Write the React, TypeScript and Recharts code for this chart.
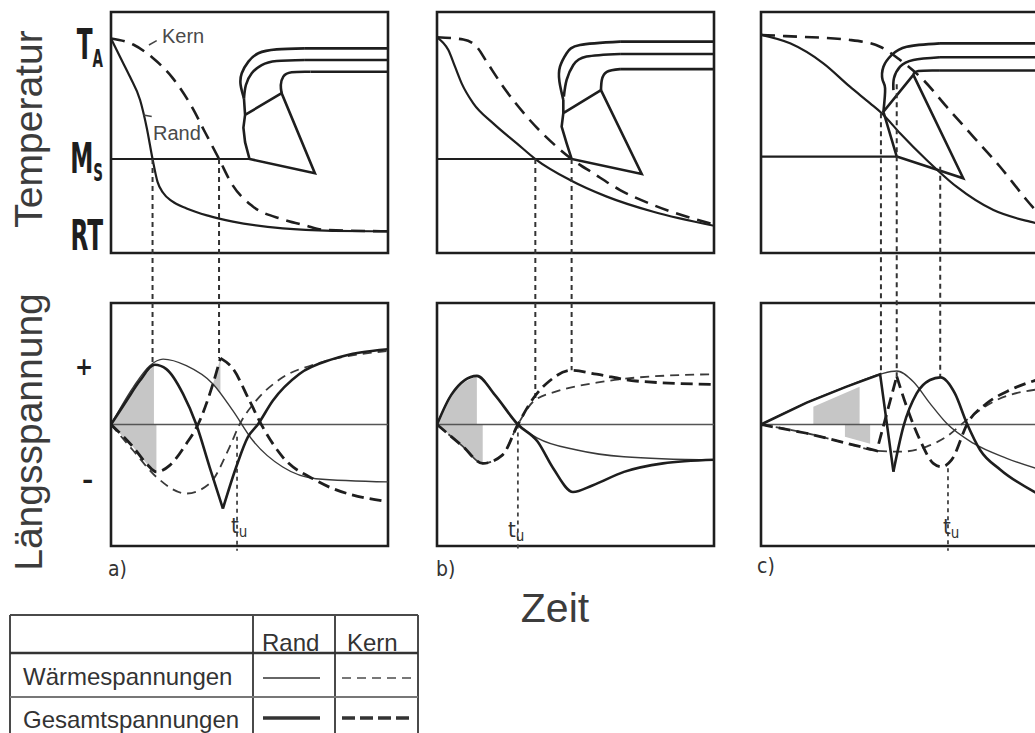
import React from "react";
import { ComposedChart, Line, Area, XAxis, YAxis, ReferenceArea, ReferenceLine } from "recharts";

// --- axis ticks -------------------------------------------------------------
// temperature: 0 = bottom of upper box, 100 = top of upper box
const tempTicks = [9, 39, 89];
const tempTickMain = ["RT", "M", "T"];
const tempTickSub = ["", "S", "A"];
// stress: 0 = zero line, +-50 = edges of lower box
const stressTicks = [23.5, -23];
const stressTickLabels = ["+", "\u2013"];

const panelLabels = ["a)", "b)", "c)"];
const legendCols = ["Rand", "Kern"];
const legendRows = ["Wärmespannungen", "Gesamtspannungen"];

// --- panel a: temperature ---------------------------------------------------
const aRandT = [[0, 89], [3.2, 81.5], [6.9, 73], [10.5, 63.5], [12.9, 52], [15, 39], [16.8, 29.5], [18.8, 25], [22, 21.5], [27.3, 18.5], [35, 15.5], [44, 13], [62, 10.2], [80, 9.2], [100, 9]];
const aKernT = [[0, 89], [8, 86.5], [15, 81], [22, 73], [29, 61], [34, 50], [39, 39], [43.7, 28.5], [51, 19.5], [62, 14], [70, 11.5], [77, 9.6], [100, 9]];
const aMs = [[0, 39], [50, 39]];
const aCct1 = [[48, 64.2], [46.8, 69.7], [47.2, 74.6], [49.6, 79.4], [53.2, 82.9], [59.8, 84.5], [70, 84.9]];
const aCct2 = [[48, 64.2], [48.7, 69.7], [50.8, 74.6], [54.4, 78], [59.8, 79.7], [70, 80.1]];
const aCct3 = [[61.6, 66.3], [61.3, 69.7], [62.2, 73.2], [65.2, 75], [72, 75.2]];
const aCctBox = [[48, 64.2], [48.4, 57.3], [47.8, 52], [48.4, 46], [50, 39], [73.6, 33.1], [61.6, 66.3], [48.4, 57.3]];
// --- panel a: stress --------------------------------------------------------
const aRandTot1 = [[0, 0], [5.6, 9.8], [10.4, 18], [15.8, 24.6], [20, 22.8], [26, 12.6], [30.8, 0], [35.6, -17.5], [40.4, -34.6]];
const aRandTot2 = [[40.4, -34.6], [45.2, -17.5], [49.4, -5.2], [53, 0], [58.4, 9.8], [68, 20.8], [80, 26.9], [100, 31]];
const aRandTherm = [[0, 0], [8, 15.3], [14, 24.2], [18.8, 26.9], [27.2, 24.2], [36.8, 16.7], [44, 5.7], [51.2, -6.6], [62, -17.5], [74, -22.3], [100, -23.6]];
const aKernTot1 = [[0, 0], [8, -9.3], [12.8, -16.1], [16.4, -19.5], [21.2, -16.8], [27.2, -7.9], [31.4, 0], [36.8, 16.7], [39.5, 27.3]];
const aKernTot2 = [[39.5, 27.3], [44, 23], [50, 9.8], [54.8, -1.1], [62, -13.4], [74, -23], [100, -31.8]];
const aKernTherm = [[0, 0], [8, -10.7], [16.4, -21.6], [27.2, -28.4], [35.6, -24.3], [42.8, -9.3], [46.4, 0], [52.4, 9.8], [62, 19.4], [74, 24.9], [100, 30.3]];
const aFillPos = [[0, 0], [5.6, 9.8], [10.4, 18], [15.5, 24.3]];
const aFillNeg = [[0, 0], [8, -9.3], [12.8, -16.1], [16.4, -19.5]];
const aFillPeak = [[36.8, 16.7, 16.7], [38.2, 14.6, 22], [39.5, 12.6, 27.3]];
const aDrops = [[15, 39, 25.2], [39, 39, 27.3]]; // x, start (temperature), end (stress)
const aTu = [45.5, -5, -52];

// --- panel b: temperature ---------------------------------------------------
const bRandT = [[0, 89.5], [4.1, 84.2], [6.5, 77.3], [8.9, 70.4], [13.1, 62.1], [20.3, 53.8], [28.8, 45.5], [35.5, 39], [48, 30.3], [61.3, 23.4], [78.1, 17.1], [100, 11.3]];
const bKernT = [[0, 89.5], [9.5, 88.6], [14.3, 85.6], [17.9, 79.4], [23.9, 69], [32.4, 56.6], [43.2, 44.1], [48.6, 39], [56.4, 33.1], [66.1, 26.1], [78.1, 19.9], [100, 11.8]];
const bMs = [[0, 39], [48.6, 39]];
const bCct1 = [[45.6, 63.5], [44.2, 71.1], [44.4, 77.3], [46.8, 82.9], [51.6, 86.3], [66.1, 87.7]];
const bCct2 = [[45.8, 64.9], [46.8, 71.8], [49.2, 78], [54, 81.5], [66.1, 82.6]];
const bCct3 = [[59.2, 67.6], [59.5, 71.8], [61.3, 75.2], [66.1, 76.3]];
const bCctBox = [[45.6, 63.5], [45.6, 58], [45, 52.4], [46.8, 45.5], [48.6, 39], [73.9, 32.8], [59.2, 67.6], [45.6, 58]];
// --- panel b: stress --------------------------------------------------------
const bRandTot = [[0, 0], [5.2, 12.3], [14.4, 20], [20.8, 12.3], [29.2, 0], [36.3, -7], [42, -18.1], [49.1, -27.8], [56.1, -25.1], [67.5, -19.5], [81.6, -16], [100, -14.5]];
const bRandTherm = [[0, 0], [5.2, 12.3], [14.4, 20], [20.8, 12.3], [29.2, 0], [36.3, -5.6], [50.5, -10.5], [67.5, -13.3], [100, -14.7]];
const bKernTot = [[0, 0], [9.4, -9.1], [16.5, -16], [23.6, -12.6], [29.2, 0], [34.9, 11], [40.6, 17.9], [48.4, 22.3], [57.6, 20.7], [71.8, 17.9], [100, 16.5]];
const bKernTherm = [[0, 0], [9.4, -9.1], [16.5, -16], [23.6, -12.6], [29.2, 0], [34.9, 9.6], [43.4, 13.7], [57.6, 17.2], [71.8, 19.3], [100, 20.7]];
const bFillPos = [[0, 0], [5.2, 12.3], [10, 17.5], [14.4, 20]];
const bFillNeg = [[0, 0], [9.4, -9.1], [14, -14.5], [16.5, -16]];
const bDrops = [[35.5, 39, 10.3], [48.6, 39, 22.3]];
const bTu = [29.2, 0, -52];

// --- panel c: temperature ---------------------------------------------------
const cRandT = [[0, 90.5], [10.5, 87], [22.5, 78.7], [32.1, 69], [39.4, 62.1], [43.6, 58], [50.2, 49.7], [59.8, 38.6], [70.6, 27.5], [83.9, 17.8], [97.1, 13], [100, 12.2]];
const cKernT = [[0, 90.5], [8.9, 90], [32.1, 88.4], [43, 85.6], [50.2, 80.1], [58.6, 71.8], [67, 60.7], [76.6, 48.3], [86.3, 35.8], [95.9, 22], [100, 16.5]];
const cMs = [[0, 40], [49, 40]];
const cCct1 = [[44.2, 58.6], [44.8, 68.3], [43.9, 71.8], [44.2, 77.3], [47.2, 82.2], [52.6, 85.6], [64.6, 87]];
const cCct2 = [[47.8, 67.6], [48, 72.5], [50.2, 77.3], [55, 80.1], [64.6, 81.2]];
const cCct3 = [[55, 73.9], [56.8, 75.5], [64.6, 75.7]];
const cCctBox = [[55, 73.9], [44.2, 58.6], [49, 40], [73, 31], [55, 73.9]];
// --- panel c: stress --------------------------------------------------------
const cRandTot1 = [[0, 0], [16.5, 9], [30.9, 15.6], [43, 20.7], [47.8, -19.4]];
const cRandTot2 = [[47.8, -19.4], [51.4, -0.9], [56.2, 12.8], [61, 18.3], [64.8, 19.4], [70, 12.8], [74.3, 0.5], [79.1, -10.5], [86.3, -18.5], [100, -28.5]];
const cRandTherm = [[0, 0], [16.5, 9], [30.9, 15.6], [43, 20.7], [49, 22], [55, 17.6], [61, 8.7], [67, 0.5], [76.6, -7.7], [88.7, -13.9], [100, -18.3]];
const cKernTot1 = [[0, 0], [16.5, -3.6], [30.9, -7.7], [41.8, -10.8], [49, 19.8]];
const cKernTot2 = [[49, 19.8], [52.6, 7.3], [57.4, -6.4], [62.2, -16], [65.2, -17.4], [68.8, -14.6], [74.8, 1], [81.5, 8.7], [89.9, 14.2], [100, 18.5]];
const cKernTherm = [[0, 0], [16.5, -3.6], [30.9, -7.7], [41.8, -10.8], [50.2, -11.2], [59.8, -9.1], [67, -5], [74.3, 1.9], [83.9, 9.4], [100, 14.5]];
const cFillPos = [[18.9, 7.3], [35.6, 15.5]];
const cFillNeg = [[30.3, -5], [39.4, -7.9]];
const cDrops = [[43.3, 58, 20.7], [49, 70, 19.8], [64.7, 35.8, 19.4]];
const cTu = [67.5, -18, -52];

// annotation leaders in panel a (temperature units)
const kernLeader = [[13.7, 86.3], [16.5, 88.1]];
const randLeader = [[11.7, 57.3], [14.7, 56.6]];

// --- layout -----------------------------------------------------------------
const TOP_Y0 = 12, TOP_Y1 = 253, BOT_Y0 = 303, BOT_Y1 = 546, PLOT_Y0 = 12, PLOT_Y1 = 560;
const BOX_W = 277;
const CHART_H = 575;
const AXIS_W = 100;
const tPerPx = 100 / (TOP_Y1 - TOP_Y0);
const sPerPx = 100 / (BOT_Y1 - BOT_Y0);
const sMid = (BOT_Y0 + BOT_Y1) / 2;
const tDomain = [-(PLOT_Y1 - TOP_Y1) * tPerPx, 100 + (TOP_Y0 - PLOT_Y0) * tPerPx];
const sDomain = [-(PLOT_Y1 - sMid) * sPerPx, (sMid - PLOT_Y0) * sPerPx];
const sToT = (s: number) => (TOP_Y1 - (sMid - s / sPerPx)) * tPerPx;

const INK = "#1e1e1e";
const TECH = "'DejaVu Sans Condensed', 'DejaVu Sans', sans-serif";
const SANS = "'Liberation Sans', Arial, sans-serif";

const pts = (arr: number[][]) => arr.map(([x, y]) => ({ x, y }));
const rng = (arr: number[][]) => arr.map(([x, lo, hi]) => ({ x, y: [lo, hi] }));
const tail = (arr: number[][]) => [arr[arr.length - 1], [100, arr[arr.length - 1][1]]];

const panels = [
  { left: 111, randT: aRandT, kernT: aKernT, ms: aMs, cct: [aCct1, aCct2, aCct3], cctBox: aCctBox,
    randTot: [[aRandTot1, "monotone"], [aRandTot2, "monotone"]], randTherm: aRandTherm,
    kernTot: [[aKernTot1, "monotone"], [aKernTot2, "monotone"]], kernTherm: aKernTherm,
    fills: [aFillPos, aFillNeg], ranges: [aFillPeak], drops: aDrops, tu: aTu },
  { left: 437, randT: bRandT, kernT: bKernT, ms: bMs, cct: [bCct1, bCct2, bCct3], cctBox: bCctBox,
    randTot: [[bRandTot, "monotone"]], randTherm: bRandTherm,
    kernTot: [[bKernTot, "monotone"]], kernTherm: bKernTherm,
    fills: [bFillPos, bFillNeg], ranges: [], drops: bDrops, tu: bTu },
  { left: 761, randT: cRandT, kernT: cKernT, ms: cMs, cct: [cCct1, cCct2, cCct3], cctBox: cCctBox,
    randTot: [[cRandTot1, "linear"], [cRandTot2, "monotone"]], randTherm: cRandTherm,
    kernTot: [[cKernTot1, "linear"], [cKernTot2, "monotone"]], kernTherm: cKernTherm,
    fills: [cFillPos, cFillNeg], ranges: [], drops: cDrops, tu: cTu },
];

function line(key: string, data: any[], axis: string, stroke: string, width: number, dash?: string, curve: any = "monotone") {
  return (
    <Line key={key} data={data} dataKey="y" yAxisId={axis} type={curve} stroke={stroke} strokeWidth={width}
      strokeDasharray={dash} dot={false} activeDot={false} isAnimationActive={false} legendType="none" />
  );
}

const axisTicks = [...tempTicks, ...stressTicks.map(sToT)];

// tick labels sit just left of the box; the technical lettering is narrow, so squeeze it
function AxisTick(props: any) {
  const { y, payload } = props;
  const x = AXIS_W - 8;
  const k = axisTicks.findIndex((v) => Math.abs(v - payload.value) < 1e-6);
  if (k < 0) return null;
  if (k < tempTicks.length) {
    const dy = [19, 14, 20][k];
    return (
      <g transform={`translate(${x},${y + dy}) scale(0.6,1)`}>
        <text x={0} y={0} textAnchor="end" fill={INK} fontFamily={TECH} fontWeight="bold" fontSize={43}>
          {tempTickMain[k]}
          {tempTickSub[k] && <tspan fontSize={25} dy={8}>{tempTickSub[k]}</tspan>}
        </text>
      </g>
    );
  }
  return (
    <text x={x - 10} y={y + 8} textAnchor="end" fill={INK} fontFamily={TECH} fontWeight="bold" fontSize={24}>
      {stressTickLabels[k - tempTicks.length]}
    </text>
  );
}

function Column({ p, i }: { p: any; i: number }) {
  const first = i === 0;
  const ml = first ? 0 : 6;
  const axisW = first ? AXIS_W : 0;
  const width = axisW + ml + BOX_W + 6;
  const left = p.left - axisW - ml;
  return (
    <div style={{ position: "absolute", left, top: 0 }}>
      <ComposedChart width={width} height={CHART_H} margin={{ top: PLOT_Y0, bottom: CHART_H - PLOT_Y1, left: ml, right: 6 }}>
        <XAxis dataKey="x" type="number" domain={[0, 100]} hide allowDataOverflow />
        <YAxis yAxisId="T" type="number" domain={tDomain} allowDataOverflow hide={!first} width={AXIS_W}
          ticks={axisTicks} interval={0} tick={AxisTick} tickSize={0} tickMargin={8} axisLine={false} tickLine={false} />
        <YAxis yAxisId="S" type="number" domain={sDomain} allowDataOverflow hide />

        {p.fills.map((f: number[][], k: number) => (
          <Area key={`f${k}`} data={pts(f)} dataKey="y" yAxisId="S" type="linear" baseValue={0}
            fill="#c6c6c6" fillOpacity={1} stroke="none" isAnimationActive={false} legendType="none" />
        ))}
        {p.ranges.map((f: number[][], k: number) => (
          <Area key={`r${k}`} data={rng(f)} dataKey="y" yAxisId="S" type="linear"
            fill="#c6c6c6" fillOpacity={1} stroke="none" isAnimationActive={false} legendType="none" />
        ))}

        <ReferenceArea yAxisId="T" x1={0} x2={100} y1={0} y2={100} fill="none" stroke={INK} strokeWidth={2.6} ifOverflow="visible" />
        <ReferenceArea yAxisId="S" x1={0} x2={100} y1={-50} y2={50} fill="none" stroke={INK} strokeWidth={2.6} ifOverflow="visible" />
        <ReferenceLine yAxisId="S" y={0} stroke="#555" strokeWidth={1.6} />

        {/* upper diagram: temperature */}
        {line("ms", pts(p.ms), "T", INK, 2.2, undefined, "linear")}
        {line("randT", pts(p.randT), "T", INK, 2.2)}
        {line("kernT", pts(p.kernT), "T", INK, 2.6, "14 8")}
        {p.cct.map((c: number[][], k: number) => line(`cct${k}`, pts(c), "T", INK, 2.6, undefined, "natural"))}
        {p.cct.map((c: number[][], k: number) => line(`cctT${k}`, pts(tail(c)), "T", INK, 2.6, undefined, "linear"))}
        {line("cctBox", pts(p.cctBox), "T", INK, 2.6, undefined, "linear")}

        {/* dotted connectors between the diagrams */}
        {p.drops.map(([x, t0, s1]: number[], k: number) =>
          line(`drop${k}`, [{ x, y: t0 }, { x, y: sToT(s1) }], "T", "#333", 2, "5 4", "linear"))}
        {line("tu", [{ x: p.tu[0], y: p.tu[1] }, { x: p.tu[0], y: p.tu[2] }], "S", "#444", 1.8, "4 4", "linear")}

        {/* lower diagram: stresses */}
        {line("randTherm", pts(p.randTherm), "S", "#3a3a3a", 1.4)}
        {line("kernTherm", pts(p.kernTherm), "S", "#3a3a3a", 1.8, "9 6")}
        {p.randTot.map(([d, c]: any, k: number) => line(`randTot${k}`, pts(d), "S", INK, 2.6, undefined, c))}
        {p.kernTot.map(([d, c]: any, k: number) => line(`kernTot${k}`, pts(d), "S", INK, 2.8, "12 6", c))}

        {first && (
          <ReferenceLine yAxisId="T" segment={kernLeader.map(([x, y]) => ({ x, y }))} stroke="#444" strokeWidth={1.5} />
        )}
        {first && (
          <ReferenceLine yAxisId="T" segment={randLeader.map(([x, y]) => ({ x, y }))} stroke="#444" strokeWidth={1.5} />
        )}
      </ComposedChart>
    </div>
  );
}

const tuPos = [[231, 533], [508, 537], [943, 534]];
const panelLabelPos = [[108, 576], [436, 576], [757, 573]];

export default function App() {
  return (
    <div style={{ position: "fixed", left: 0, top: 0, width: 1035, height: 733, overflow: "hidden", background: "#fff" }}>
      {panels.map((p, i) => <Column key={i} p={p} i={i} />)}
      <svg width={1035} height={733} style={{ position: "absolute", left: 0, top: 0, pointerEvents: "none" }}>
        <text transform="translate(42,129) rotate(-90)" textAnchor="middle" fontFamily={SANS} fontSize={39} fill="#3c3c3c">Temperatur</text>
        <text transform="translate(42,432) rotate(-90)" textAnchor="middle" fontFamily={SANS} fontSize={39} fill="#3c3c3c">Längsspannung</text>
        <text x={555} y={622} textAnchor="middle" fontFamily={SANS} fontSize={41} fill="#3c3c3c">Zeit</text>

        <text x={162} y={43} fontFamily={SANS} fontSize={20} fill="#4a4a4a">Kern</text>
        <text x={153} y={140} fontFamily={SANS} fontSize={20} fill="#4a4a4a">Rand</text>

        {panelLabels.map((l, i) => (
          <text key={l} x={panelLabelPos[i][0]} y={panelLabelPos[i][1]} fontFamily={TECH} fontSize={21} fill="#333">{l}</text>
        ))}
        {tuPos.map(([x, y], i) => (
          <text key={i} x={x} y={y} fontFamily={TECH} fontSize={22} fill="#333">t<tspan fontSize={15} dy={4}>u</tspan></text>
        ))}

        {/* legend table */}
        <g stroke="#4a4a4a" strokeWidth={2} fill="none">
          <line x1={10} y1={615} x2={418} y2={615} />
          <line x1={10} y1={615} x2={10} y2={740} />
          <line x1={418} y1={615} x2={418} y2={740} />
          <line x1={253} y1={615} x2={253} y2={740} />
          <line x1={335} y1={615} x2={335} y2={740} />
          <line x1={10} y1={653} x2={418} y2={653} stroke="#333" strokeWidth={2.6} />
          <line x1={10} y1={697} x2={418} y2={697} stroke="#777" />
        </g>
        <text x={262} y={651} fontFamily={SANS} fontSize={24} fill="#333">{legendCols[0]}</text>
        <text x={347} y={651} fontFamily={SANS} fontSize={24} fill="#333">{legendCols[1]}</text>
        <text x={23} y={685} fontFamily={SANS} fontSize={24} fill="#333">{legendRows[0]}</text>
        <text x={23} y={728} fontFamily={SANS} fontSize={24} fill="#333">{legendRows[1]}</text>
        <line x1={263} y1={678} x2={320} y2={678} stroke="#666" strokeWidth={2} />
        <line x1={342} y1={678} x2={416} y2={678} stroke="#777" strokeWidth={2} strokeDasharray="9 6" />
        <line x1={263} y1={718} x2={320} y2={718} stroke="#333" strokeWidth={3.4} />
        <line x1={342} y1={718} x2={410} y2={718} stroke="#333" strokeWidth={3.4} strokeDasharray="13 5" />
      </svg>
    </div>
  );
}
